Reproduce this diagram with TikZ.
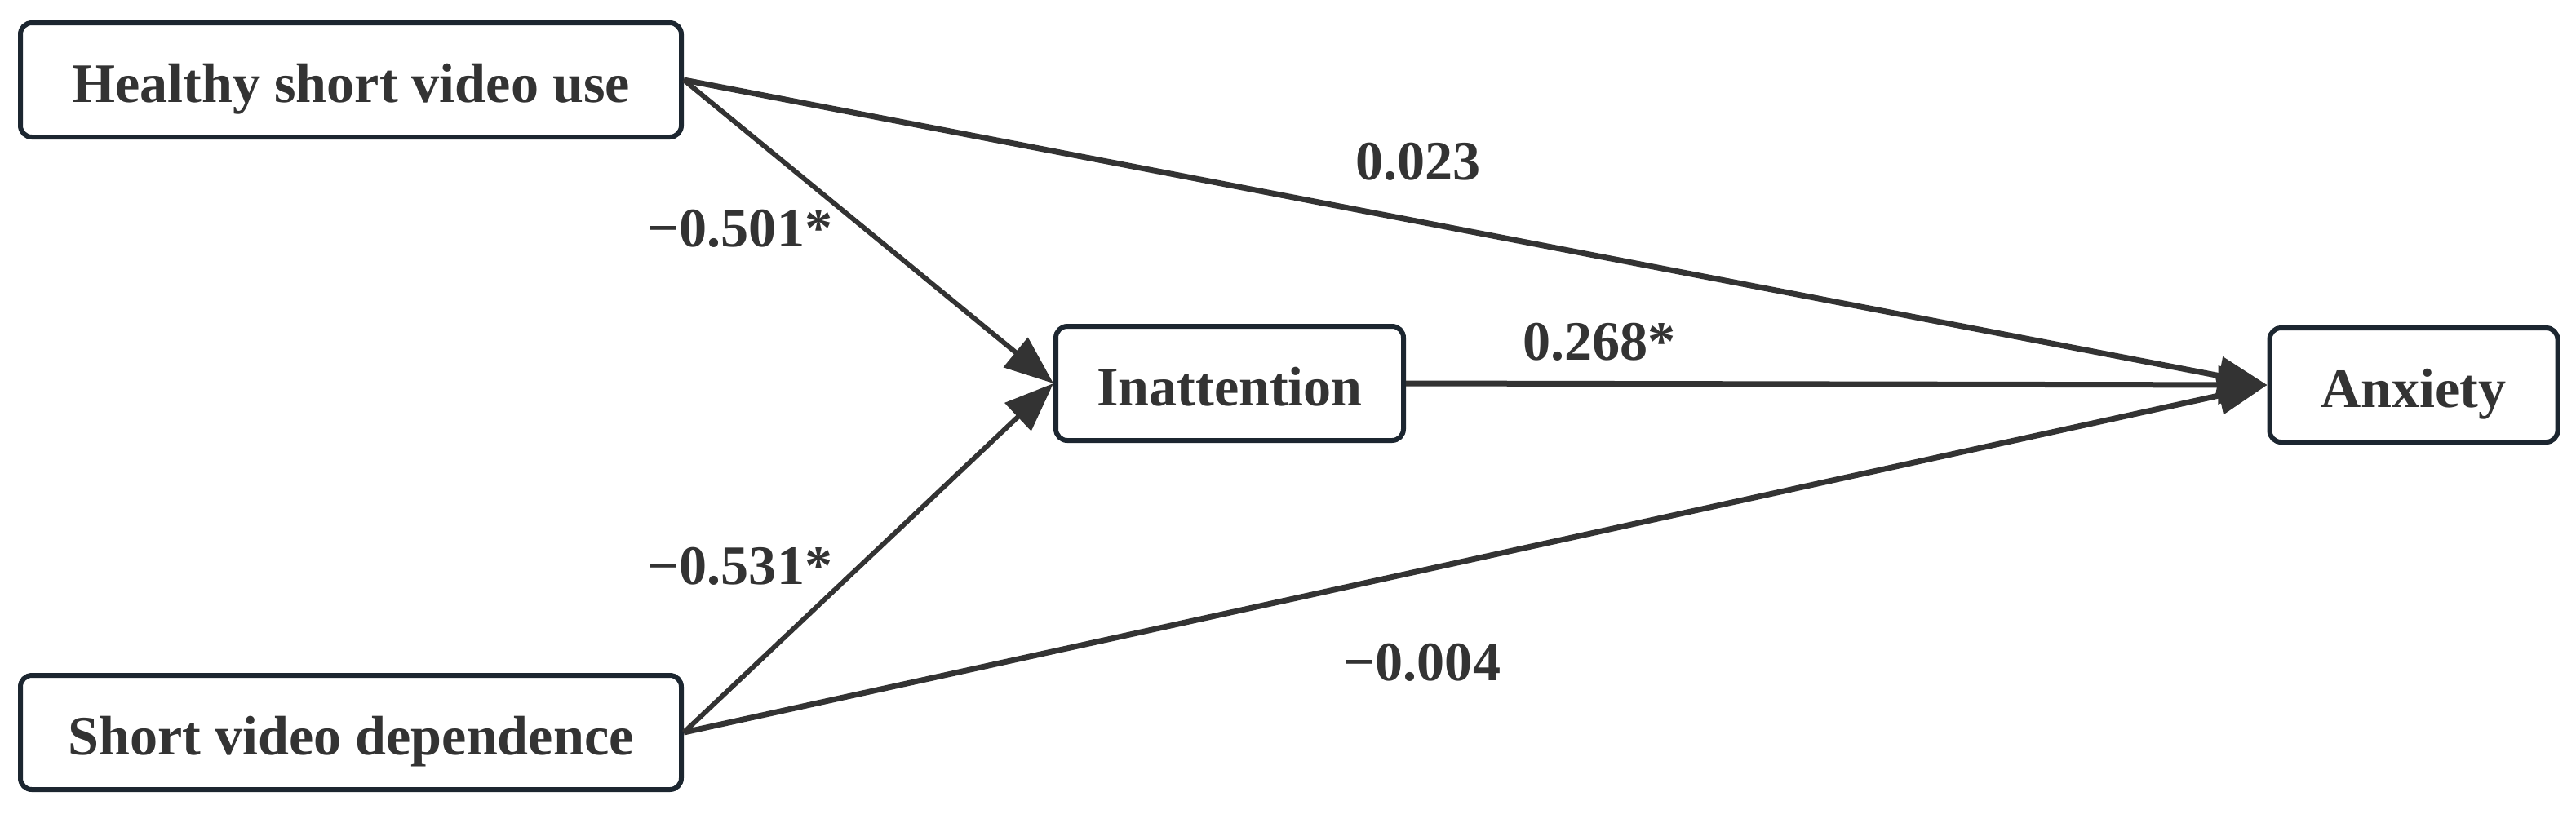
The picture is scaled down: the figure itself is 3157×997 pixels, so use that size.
\documentclass[tikz,border=0pt]{standalone}
\usepackage{fontspec}
\setmainfont{Liberation Serif}
\usetikzlibrary{arrows.meta}
\definecolor{ink}{HTML}{333333}
\definecolor{frame}{HTML}{1C2630}
\begin{document}
\begin{tikzpicture}[x=0.1mm,y=-0.1mm,
	var/.style={draw=frame,line width=0.6mm,rounded corners=1.4mm,fill=white,text=ink,
		minimum height=14mm,text height=15.4pt,text depth=0pt,
		font=\fontsize{19.4pt}{23pt}\selectfont\bfseries},
	coef/.style={text=ink,inner sep=0pt,font=\fontsize{19.4pt}{23pt}\selectfont\bfseries},
	effect/.style={draw=ink,line width=0.6mm,-{Triangle[length=6mm,width=4.6mm]}},
	direct/.style={effect,line width=0.7mm}]
	\useasboundingbox (0,0) rectangle (3157,997);
	\node[var,minimum width=81mm] (hsv) at (430,98) {Healthy short video use};
	\node[var,minimum width=81mm] (svd) at (430,898) {Short video dependence};
	\node[var,minimum width=42.6mm] (ina) at (1507,470) {Inattention};
	\node[var,minimum width=35.3mm] (anx) at (2958,472) {Anxiety};
	\draw[effect] (hsv.east) -- (ina.west);
	\draw[effect] (svd.east) -- (ina.west);
	\foreach \s in {hsv,ina,svd}
	\draw[direct] (\s.east) -- (anx.west);
	\node[coef] (a1) at (907,280) {−0.501*};
	\node[coef] (a2) at (907,694) {−0.531*};
	\node[coef] (b) at (1960,419) {0.268*};
	\node[coef] (c1) at (1738,198) {0.023};
	\node[coef] (c2) at (1743,812) {−0.004};
\end{tikzpicture}
\end{document}
